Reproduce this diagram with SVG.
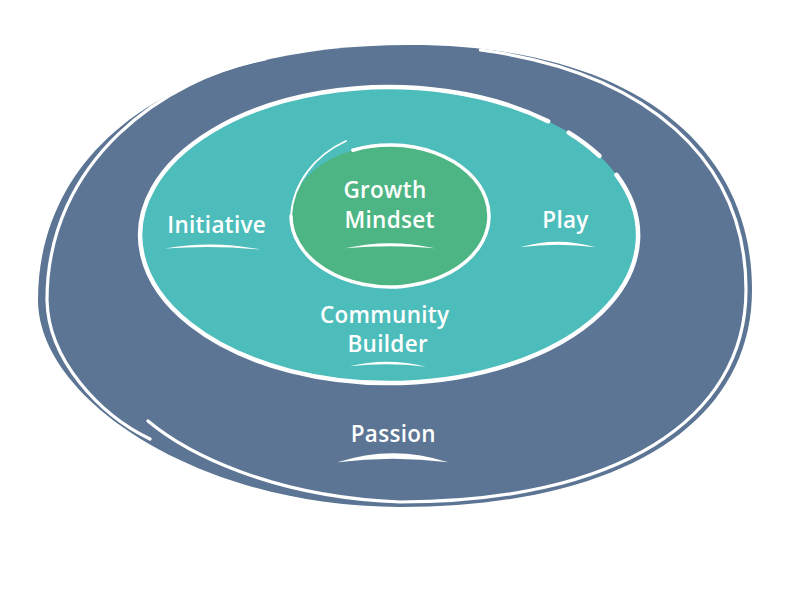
<svg xmlns="http://www.w3.org/2000/svg" width="792" height="612" viewBox="0 0 792 612">
  <style>
    .label { font-family: "Open Sans", "Liberation Sans", sans-serif; font-weight: 600; font-size: 22.5px; letter-spacing: 0.3px; fill: #ffffff; text-anchor: middle; }
    .swoosh { fill: #ffffff; }
    .line { fill: none; stroke: #ffffff; stroke-linecap: round; }
  </style>
  <rect width="792" height="612" fill="#ffffff"/>

  <g id="passion">
    <path d="M410,45 C622,45 752,138 752,290 C752,425 618,507 400,507 C200,507 38,400 38,300 C38,158 160,45 410,45 Z" fill="#5C7594"/>
    <path class="line" stroke-width="3.2" d="M265,59 C165,78 47,160 47,300 C48,360 100,415 150,439"/>
    <path class="line" stroke-width="3.2" d="M148,421 C185,452 270,497 400,502 C615,502 746,421 746,289.7 C746,159 646,72 480.5,50"/>
    <text class="label" x="393.3" y="441.7">Passion</text>
    <path class="swoosh" d="M337.3,462.3 Q393,444 448.3,462.3 Q393,455 337.3,462.3 Z"/>
  </g>

  <g id="middle-ring">
    <ellipse cx="389" cy="235" rx="249" ry="148" fill="#4DBDBB"/>
    <path class="line" stroke-width="4.5" d="M616.5,174.8 A249,148 0 1 1 548.1,121.2"/>
    <path class="line" stroke-width="4.5" d="M568.7,132.6 A249,148 0 0 1 599.5,155.9"/>
  </g>

  <g id="initiative">
    <text class="label" x="216.7" y="233.3">Initiative</text>
    <path class="swoosh" d="M165,248.5 Q213,240 260,249.5 Q213,245 165,248.5 Z"/>
  </g>

  <g id="play">
    <text class="label" x="565.5" y="228.3">Play</text>
    <path class="swoosh" d="M520,247.3 Q557,236 596,247.3 Q557,242 520,247.3 Z"/>
  </g>

  <g id="community-builder">
    <text class="label" x="384.7" y="323.3">Community</text>
    <text class="label" x="387.7" y="351.7">Builder</text>
    <path class="swoosh" d="M350,366.3 Q387,357 426,366.7 Q387,362 350,366.3 Z"/>
  </g>

  <g id="growth-mindset">
    <ellipse cx="390" cy="216" rx="99" ry="71" fill="#4DB584"/>
    <path class="line" stroke-width="3.5" d="M352.9,150.2 A99,71 0 1 1 291,216"/>
    <path class="line" stroke-width="1.8" d="M291,216 C293,183 315,155 346,141"/>
    <text class="label" x="385" y="198.3">Growth</text>
    <text class="label" x="389.6" y="228.3">Mindset</text>
    <path class="swoosh" d="M345,248.3 Q390,238 435,248.3 Q390,244 345,248.3 Z"/>
  </g>

  <g id="connectors"/>
</svg>
